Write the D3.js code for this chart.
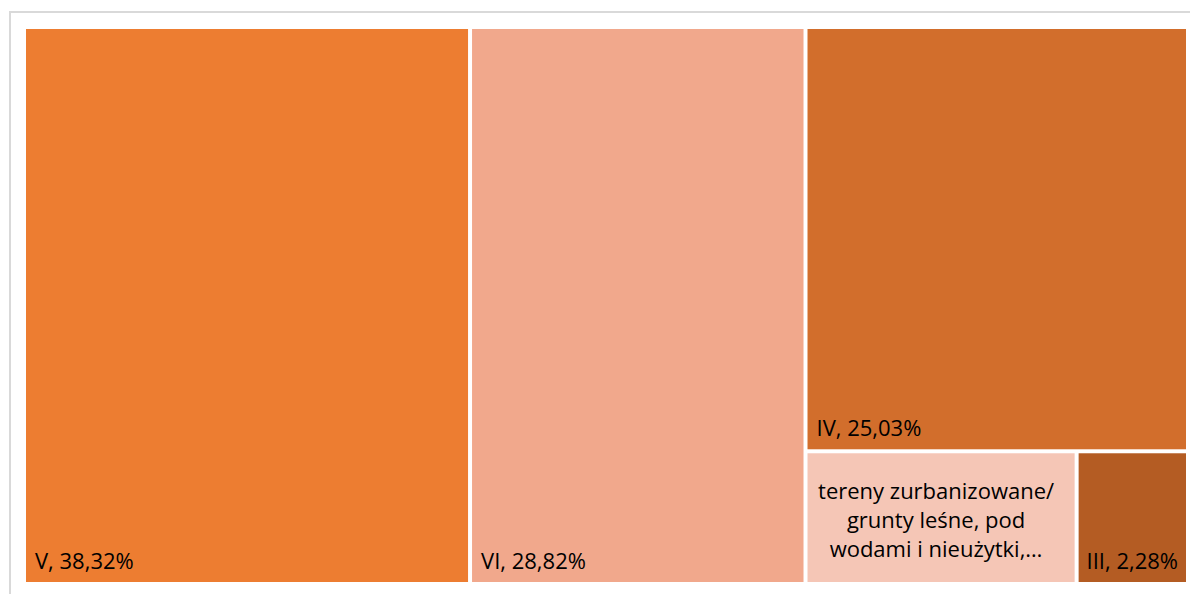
<!DOCTYPE html>
<html>
<head>
<meta charset="utf-8">
<script src="https://cdn.jsdelivr.net/npm/d3@7"></script>
<style>
  html, body { margin: 0; padding: 0; background: #ffffff; }
  svg { display: block; }
  text { font-family: "Open Sans", "Noto Sans", sans-serif; }
</style>
</head>
<body>
<svg id="chart" width="1190" height="594"></svg>
<script>
// ---- data ----
const categories = ["V", "VI", "IV", "tereny zurbanizowane/ grunty leśne, pod wodami i nieużytki", "III"];
const shares = [38.32, 28.82, 25.03, 5.55, 2.28];
const colors = ["#ED7D31", "#F1A88C", "#D26E2C", "#F5C6B6", "#B45C23"];
// label as shown in the chart (the long one is wrapped and truncated)
const labelLines = [
  ["V, 38,32%"],
  ["VI, 28,82%"],
  ["IV, 25,03%"],
  ["tereny zurbanizowane/", "grunty leśne, pod", "wodami i nieużytki,…"],
  ["III, 2,28%"]
];

const W = 1190, H = 594;
const svg = d3.select("#chart");

// chart area frame
svg.append("rect")
  .attr("x", 10).attr("y", 12)
  .attr("width", 1300).attr("height", 700)
  .attr("fill", "none")
  .attr("stroke", "#d9d9d9")
  .attr("stroke-width", 2);

const plot = { x: 26, y: 29, w: 1160, h: 553 };

const rootData = {
  name: "root",
  children: categories.map((c, i) => ({ name: c, value: shares[i], idx: i }))
};

const root = d3.hierarchy(rootData)
  .sum(d => d.value || 0)
  .sort((a, b) => b.value - a.value);

d3.treemap()
  .tile(d3.treemapSquarify.ratio(1))
  .size([plot.w, plot.h])
  .paddingInner(4)
  (root);

const g = svg.append("g").attr("transform", `translate(${plot.x},${plot.y})`);

const leaf = g.selectAll("g.leaf")
  .data(root.leaves())
  .join("g")
  .attr("class", "leaf");

leaf.append("rect")
  .attr("x", d => d.x0)
  .attr("y", d => d.y0)
  .attr("width", d => d.x1 - d.x0)
  .attr("height", d => d.y1 - d.y0)
  .attr("fill", d => colors[d.data.idx]);

const fontSize = 22;
const lineH = 29;

leaf.each(function(d) {
  const lines = labelLines[d.data.idx];
  const sel = d3.select(this);
  const w = d.x1 - d.x0;
  if (lines.length === 1) {
    const t = sel.append("text")
      .attr("font-size", fontSize)
      .attr("fill", "#000")
      .attr("y", d.y1 - 13)
      .text(lines[0]);
    const tw = t.node().getComputedTextLength();
    const pad = Math.min(9, (w - tw) / 2);
    t.attr("x", d.x0 + pad);
  } else {
    const n = lines.length;
    lines.forEach((ln, i) => {
      sel.append("text")
        .attr("font-size", fontSize)
        .attr("fill", "#000")
        .attr("text-anchor", "middle")
        .attr("x", d.x0 + w / 2 - 5)
        .attr("y", d.y1 - 25 - lineH * (n - 1 - i))
        .text(ln);
    });
  }
});
</script>
</body>
</html>
